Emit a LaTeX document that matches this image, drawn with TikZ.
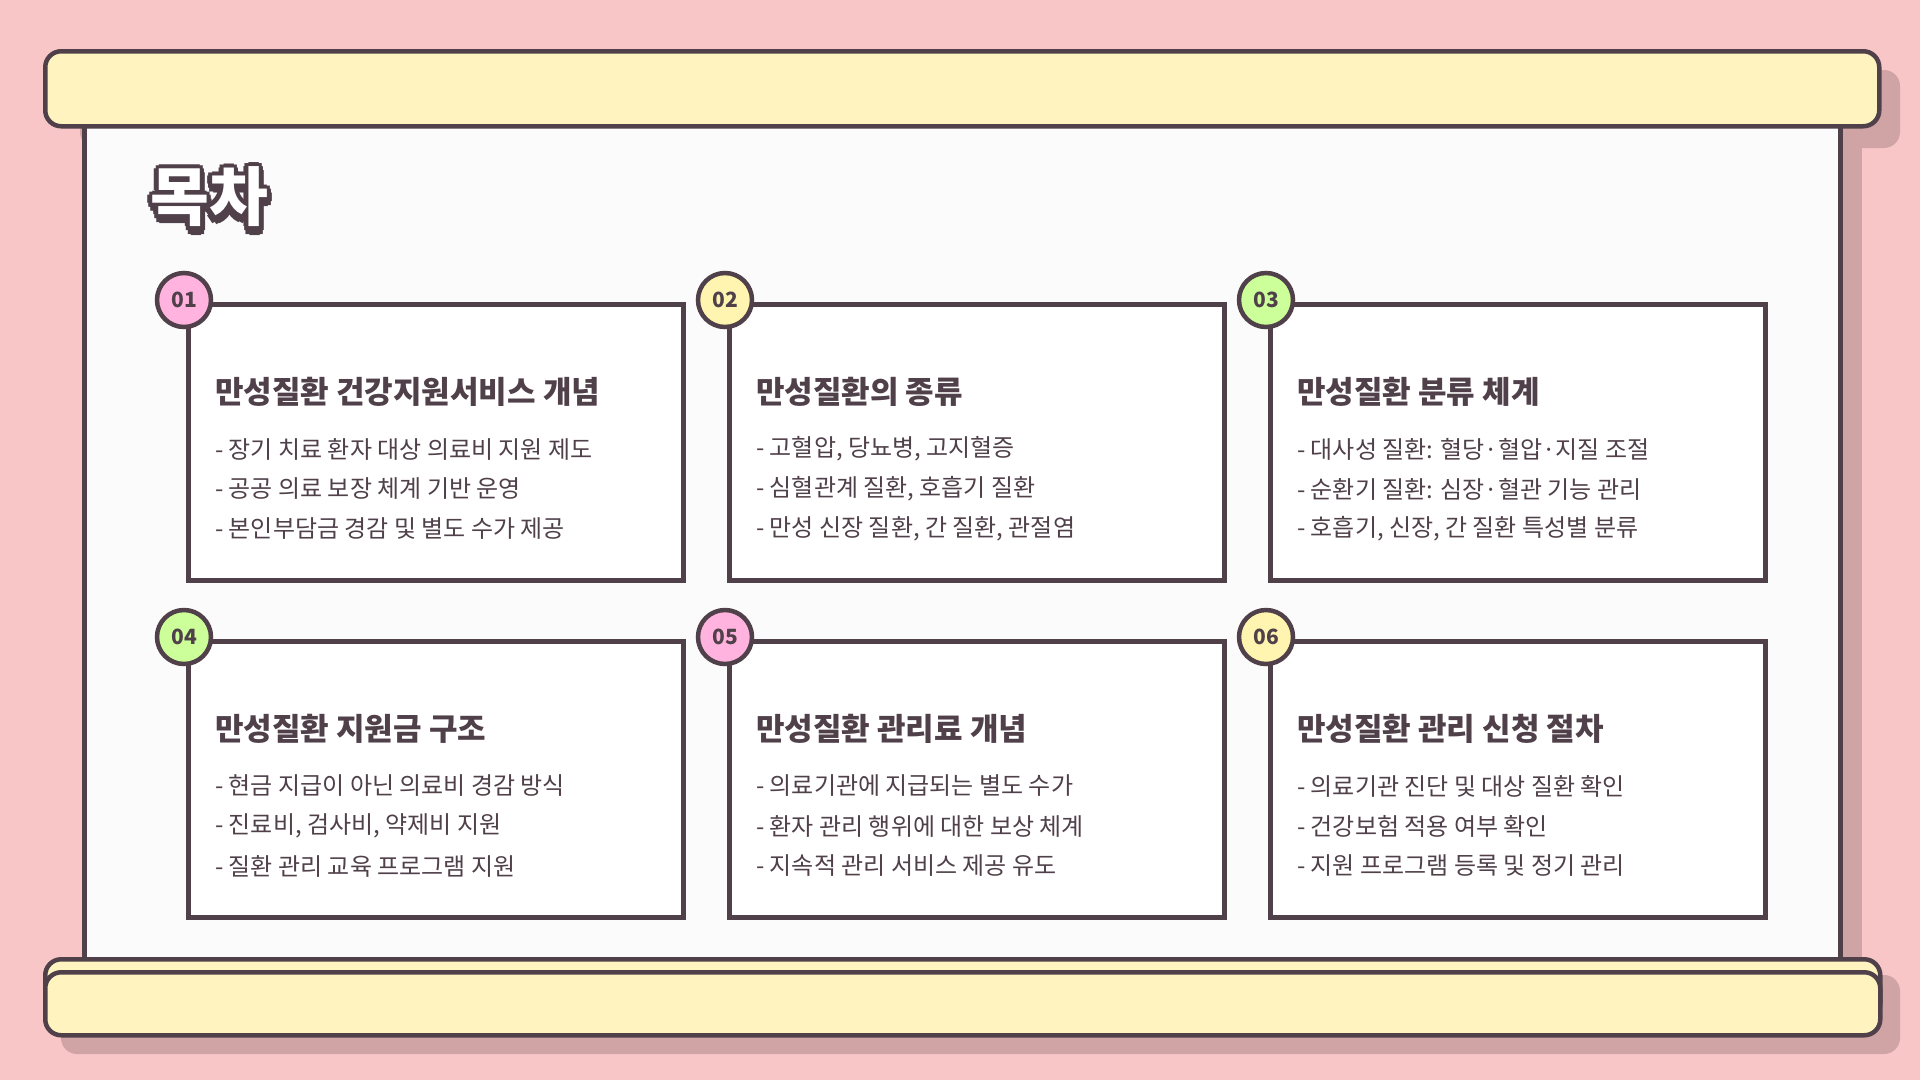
\documentclass[tikz,border=0pt]{standalone}
\usepackage{fontspec}
\usetikzlibrary{calc}
\newfontfamily\kr{Noto Sans CJK KR}
\definecolor{bg}{HTML}{F9C6C8}
\definecolor{ink}{HTML}{4F4049}
\definecolor{paper}{HTML}{FBFBFB}
\definecolor{bar}{HTML}{FFF4C0}
\definecolor{shd}{HTML}{D0A3A5}
\definecolor{cshd}{HTML}{E0E0E0}
\definecolor{cpink}{HTML}{FFB3DE}
\definecolor{cyel}{HTML}{FFF5B0}
\definecolor{cgrn}{HTML}{CCFF99}
\tikzset{
 cardbox/.style={draw=ink,line width=4.5pt,fill=white},
 badge/.style={circle,draw=ink,line width=4.5pt,minimum size=54pt,inner sep=0pt,font=\kr\bfseries\fontsize{21}{21}\selectfont,text=ink},
 ctitle/.style={anchor=west,font=\kr\bfseries\fontsize{31}{34}\selectfont,text=ink,inner sep=0pt},
 citem/.style={anchor=west,font=\kr\fontsize{24}{28}\selectfont,text=ink,inner sep=0pt},
 barbox/.style={draw=ink,line width=4.5pt,fill=bar,rounded corners=16pt},
 ttl/.style={font=\kr\bfseries\fontsize{64}{64}\selectfont,anchor=west,inner sep=0pt}
}
\newcommand\mycard[9]{%
 \fill[cshd] (#1+5,-#2-5) rectangle (#1+500,-#2-281);
 \node[cardbox,minimum width=495pt,minimum height=276pt,anchor=north west] (card#3) at (#1,-#2) {};
 \node[badge,fill=#4] (b#3) at (#1-2,-#2+2) {#3};
 \node[ctitle] (t#3) at (#1+29,-#2-90) {#5};
 \node[citem] (i#3a) at (#1+29,-#2-147) {- #6};
 \node[citem] (i#3b) at (#1+29,-#2-187) {- #7};
 \node[citem] (i#3c) at (#1+29,-#2-227) {- #8};
}
\begin{document}
\begin{tikzpicture}[x=1pt,y=1pt]
\fill[bg] (0,0) rectangle (1920,-1080);
\useasboundingbox (0,0) rectangle (1920,-1080);
% shadows
\fill[shd,rounded corners=16pt] (80,-70) rectangle (1900,-148);
\fill[shd] (100,-120) rectangle (1862,-980);
\fill[shd,rounded corners=16pt] (61,-975) rectangle (1900,-1054);
% paper
\node[draw=ink,line width=4.5pt,fill=paper,minimum width=1756pt,minimum height=860pt,anchor=north west] (paper) at (82,-110) {};
% top bar
\node[barbox,minimum width=1834pt,minimum height=75pt,anchor=north west] (topbar) at (43,-49) {};
% bottom bars
\node[barbox,minimum width=1835pt,minimum height=60pt,anchor=north west] (botback) at (43,-957) {};
\node[barbox,minimum width=1835pt,minimum height=63pt,anchor=north west] (botbar) at (43,-970) {};
% title with outline
\foreach \a in {0,45,...,359} {
 \node[ttl,text=ink] at ($(150,-197)+(\a:4.5)+(1,-4)$) {목차};
 \node[ttl,text=ink] at ($(150,-197)+(\a:4.5)$) {목차};
}
\node[ttl,text=white] (title) at (150,-197) {목차};
% cards
\mycard{186}{302}{01}{cpink}{만성질환 건강지원서비스 개념}{장기 치료 환자 대상 의료비 지원 제도}{공공 의료 보장 체계 기반 운영}{본인부담금 경감 및 별도 수가 제공}{}
\mycard{727}{302}{02}{cyel}{만성질환의 종류}{고혈압, 당뇨병, 고지혈증}{심혈관계 질환, 호흡기 질환}{만성 신장 질환, 간 질환, 관절염}{}
\mycard{1268}{302}{03}{cgrn}{만성질환 분류 체계}{대사성 질환: 혈당·혈압·지질 조절}{순환기 질환: 심장·혈관 기능 관리}{호흡기, 신장, 간 질환 특성별 분류}{}
\mycard{186}{639}{04}{cgrn}{만성질환 지원금 구조}{현금 지급이 아닌 의료비 경감 방식}{진료비, 검사비, 약제비 지원}{질환 관리 교육 프로그램 지원}{}
\mycard{727}{639}{05}{cpink}{만성질환 관리료 개념}{의료기관에 지급되는 별도 수가}{환자 관리 행위에 대한 보상 체계}{지속적 관리 서비스 제공 유도}{}
\mycard{1268}{639}{06}{cyel}{만성질환 관리 신청 절차}{의료기관 진단 및 대상 질환 확인}{건강보험 적용 여부 확인}{지원 프로그램 등록 및 정기 관리}{}
\end{tikzpicture}
\end{document}
